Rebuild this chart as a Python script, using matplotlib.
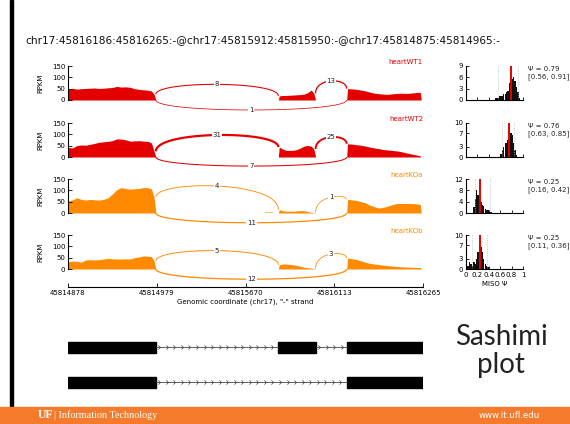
import numpy as np
import matplotlib
matplotlib.use("Agg")
import matplotlib.pyplot as plt
from matplotlib.patches import Rectangle
from matplotlib.path import Path

# ---- data -------------------------------------------------------------
title = "chr17:45816186:45816265:-@chr17:45815912:45815950:-@chr17:45814875:45814965:-"
samples = ["heartWT1", "heartWT2", "heartKOa", "heartKOb"]
tick_labels = ["45814878", "45814979", "45815670", "45816113", "45816265"]

# exon boundaries in the (intron-scaled) plot coordinate
exons = [(0.0, 0.99), (2.37, 2.79), (3.14, 4.0)]

exon1_x = [0, 0.05, 0.1, 0.15, 0.2, 0.25, 0.3, 0.35, 0.4, 0.45, 0.5, 0.55,
           0.6, 0.65, 0.7, 0.75, 0.8, 0.85, 0.9, 0.94, 0.97, 0.99]
exon2_x = [2.37, 2.38, 2.42, 2.46, 2.5, 2.54, 2.58, 2.62, 2.66, 2.7, 2.74, 2.77, 2.79]
exon3_x = [3.14, 3.15, 3.2, 3.25, 3.3, 3.35, 3.4, 3.45, 3.5, 3.55, 3.6, 3.65,
           3.7, 3.75, 3.8, 3.85, 3.9, 3.95, 3.97, 3.98]

cov_exon1 = {
    "heartWT1": [45, 52, 48, 50, 51, 52, 53, 51, 52, 54, 55, 60, 57, 58, 56, 50, 47, 45, 43, 40, 25, 0],
    "heartWT2": [42, 40, 50, 53, 52, 56, 60, 65, 67, 69, 72, 80, 79, 76, 70, 71, 72, 70, 69, 62, 25, 0],
    "heartKOa": [52, 58, 67, 60, 57, 60, 58, 57, 60, 67, 84, 103, 112, 108, 105, 107, 108, 112, 112, 106, 70, 0],
    "heartKOb": [32, 35, 34, 30, 40, 41, 40, 41, 44, 47, 45, 44, 44, 45, 44, 50, 53, 58, 56, 55, 35, 0],
}
cov_exon2 = {
    "heartWT1": [0, 18, 20, 20, 21, 22, 23, 24, 26, 32, 44, 30, 0],
    "heartWT2": [0, 44, 35, 29, 29, 30, 33, 40, 48, 51, 48, 35, 0],
    "heartKOa": [0, 15, 10, 8, 8, 8, 9, 11, 10, 6, 3, 2, 0],
    "heartKOb": [0, 18, 22, 22, 20, 18, 15, 12, 8, 6, 4, 2, 0],
}
cov_exon3 = {
    "heartWT1": [0, 50, 49, 47, 44, 40, 35, 30, 28, 26, 25, 27, 29, 30, 29, 30, 32, 34, 33, 0],
    "heartWT2": [0, 58, 57, 54, 52, 48, 44, 40, 37, 33, 31, 29, 27, 24, 19, 15, 11, 7, 4, 0],
    "heartKOa": [0, 60, 58, 55, 50, 45, 35, 28, 22, 25, 30, 36, 42, 42, 42, 42, 41, 39, 37, 0],
    "heartKOb": [0, 49, 45, 42, 36, 30, 25, 22, 20, 17, 15, 13, 11, 10, 9, 8, 7, 7, 7, 0],
}
# low intronic coverage pieces (start, end, RPKM)
intron_cov = {
    "heartWT1": [(1.0, 1.12, 2), (1.23, 1.34, 2), (1.52, 1.79, 2), (2.2, 2.31, 2)],
    "heartWT2": [(1.69, 1.79, 2), (2.87, 2.99, 2)],
    "heartKOa": [(2.22, 2.31, 4)],
    "heartKOb": [],
}

# junction read counts: exon1-exon2, exon2-exon3, exon1-exon3
junc_left = [8, 31, 4, 5]
junc_right = [13, 25, 1, 3]
junc_skip = [1, 7, 11, 12]

# MISO posterior
psi = [0.79, 0.76, 0.25, 0.25]
ci_lo = [0.56, 0.63, 0.16, 0.11]
ci_hi = [0.91, 0.85, 0.42, 0.36]
hist_ymax = [9, 10, 12, 10]
hist_yticks = [[0, 3, 6, 9], [0, 3, 7, 10], [0, 4, 8, 12], [0, 3, 7, 10]]
bin_centers = np.arange(0.0125, 1.0, 0.025)
hist_counts = {
    "heartWT1": {0.5125: 0.5, 0.5375: 0.5, 0.5625: 0.5, 0.5875: 1, 0.6125: 1, 0.6375: 1,
                 0.6625: 1.5, 0.6875: 1.5, 0.7125: 2, 0.7375: 2.5, 0.7625: 4.5, 0.7875: 5,
                 0.8125: 5.5, 0.8375: 6, 0.8625: 5, 0.8875: 3.5, 0.9125: 2, 0.9375: 0.5},
    "heartWT2": {0.6125: 1, 0.6375: 2, 0.6625: 3, 0.6875: 4, 0.7125: 4, 0.7375: 5,
                 0.7625: 5, 0.7875: 7, 0.8125: 6.5, 0.8375: 4, 0.8625: 2, 0.8875: 0.5},
    "heartKOa": {0.1375: 2, 0.1625: 5, 0.1875: 8, 0.2125: 6.5, 0.2375: 5, 0.2625: 4,
                 0.2875: 3, 0.3125: 2.5, 0.3375: 1.5, 0.3625: 1, 0.3875: 1, 0.4125: 0.5,
                 0.4375: 0.5},
    "heartKOb": {0.0375: 1, 0.0625: 2, 0.0875: 1.5, 0.1125: 1, 0.1375: 2, 0.1625: 1.5,
                 0.1875: 3, 0.2125: 5, 0.2375: 7, 0.2625: 6.5, 0.2875: 5, 0.3125: 3,
                 0.3375: 1.5, 0.3625: 1, 0.3875: 0.5},
}

# ---- layout / style ---------------------------------------------------
colors = ["#e50000", "#e50000", "#ff8a00", "#ff8a00"]
zero_px = [100, 157, 213, 269]       # pixel row of RPKM 0 in each track
arc_top_left = [69, 97, 119, 81]
arc_top_right = [84, 88, 70, 66]
arc_bottom = [-44, -40, -43, -45]

W, H = 570, 424
S = 34 / 150.0  # pixels per RPKM
FS = 5

fig = plt.figure(figsize=(W / 100, H / 100), dpi=100)


def px_axes(x0, y0, x1, y1):
    return fig.add_axes([x0 / W, 1 - y1 / H, (x1 - x0) / W, (y1 - y0) / H])


def bezier(x1, y1, x2, y2, peak, n=80):
    h = (peak - 0.125 * (y1 + y2)) / 0.75
    t = np.linspace(0, 1, n)
    xs = (1 - t) ** 3 * x1 + 3 * (1 - t) ** 2 * t * x1 + 3 * (1 - t) * t ** 2 * x2 + t ** 3 * x2
    ys = (1 - t) ** 3 * y1 + 3 * (1 - t) ** 2 * t * h + 3 * (1 - t) * t ** 2 * h + t ** 3 * y2
    return xs, ys


# slide decorations
fig.patches.append(Rectangle((10 / W, 0), 3 / W, 1, transform=fig.transFigure,
                             color="black", zorder=0))
fig.patches.append(Rectangle((0, 0), 1, 17 / H, transform=fig.transFigure,
                             color="#f37b2b", zorder=0))
fig.text(25 / W, 1 - 40 / H, title, fontsize=7.6, va="center", ha="left", color="#111")

for i, s in enumerate(samples):
    c = colors[i]
    z = zero_px[i]
    ylo = -60 if i < 3 else -(287 - z) / S
    yhi = 165
    ax = px_axes(68, z - yhi * S, 423, z - ylo * S)
    ax.set_xlim(0, 4)
    ax.set_ylim(ylo, yhi)
    ax.patch.set_alpha(0)

    for xs, cov in [(exon1_x, cov_exon1), (exon2_x, cov_exon2), (exon3_x, cov_exon3)]:
        ax.fill_between(xs, 0, cov[s], color=c, lw=0)
    for a, b, v in intron_cov[s]:
        ax.fill_between([a, b], 0, [v, v], color=c, lw=0, alpha=0.6)

    yl = np.interp(exons[0][1] - 0.02, exon1_x, cov_exon1[s])
    ym1 = np.interp(exons[1][0] + 0.01, exon2_x, cov_exon2[s])
    ym2 = np.interp(exons[1][1] - 0.02, exon2_x, cov_exon2[s])
    yr = np.interp(exons[2][0] + 0.01, exon3_x, cov_exon3[s])

    arcs = [
        (exons[0][1], yl, exons[1][0], ym1, arc_top_left[i], junc_left[i]),
        (exons[1][1], ym2, exons[2][0], yr, arc_top_right[i], junc_right[i]),
        (exons[0][1], 0, exons[2][0], 0, arc_bottom[i], junc_skip[i]),
    ]
    for x1, y1, x2, y2, pk, n in arcs:
        xs, ys = bezier(x1, y1, x2, y2, pk)
        ax.plot(xs, ys, color=c, lw=0.5 + 0.035 * n, solid_capstyle="butt")
        ax.text((x1 + x2) / 2, pk, str(n), fontsize=FS, ha="center", va="center",
                color="#222", bbox=dict(facecolor="white", edgecolor="none", pad=0.6))

    for sp in ["top", "right"]:
        ax.spines[sp].set_visible(False)
    ax.spines["left"].set_bounds(0, 150)
    ax.spines["left"].set_linewidth(0.8)
    ax.set_yticks([0, 50, 100, 150])
    ax.tick_params(axis="y", direction="in", length=3, width=0.6, labelsize=FS, pad=2)
    ax.set_ylabel("RPKM", fontsize=FS, labelpad=2)
    ax.yaxis.set_label_coords(-0.068, (0 + 75 - ylo) / (yhi - ylo))
    if i < 3:
        ax.spines["bottom"].set_visible(False)
        ax.set_xticks([])
    else:
        ax.spines["bottom"].set_linewidth(0.8)
        ax.set_xticks(range(5))
        ax.set_xticklabels(tick_labels)
        ax.tick_params(axis="x", direction="in", length=3, width=0.6, labelsize=FS, pad=2)
        ax.set_xlabel('Genomic coordinate (chr17), "-" strand', fontsize=FS, labelpad=2)
    fig.text(423 / W, 1 - (z - 150 * S - 4) / H, s, fontsize=FS, color=c,
             ha="right", va="center")

    # MISO posterior histogram
    hx = px_axes(466, z - 34, 523, z)
    counts = [hist_counts[s].get(round(b, 4), 0) for b in bin_centers]
    hx.bar(bin_centers, counts, width=0.024, color="#111", lw=0)
    hx.axvline(ci_lo[i], color="#bbbbbb", lw=0.6, ls=":")
    hx.axvline(ci_hi[i], color="#bbbbbb", lw=0.6, ls=":")
    hx.axvline(psi[i], color="#e50000", lw=1.4)
    hx.set_xlim(0, 1)
    hx.set_ylim(0, hist_ymax[i])
    hx.set_yticks(hist_yticks[i])
    hx.set_xticks(np.arange(0, 1.01, 0.2))
    for sp in ["top", "right"]:
        hx.spines[sp].set_visible(False)
    for sp in ["left", "bottom"]:
        hx.spines[sp].set_linewidth(0.8)
    hx.tick_params(direction="in", length=2.5, width=0.6, labelsize=FS, pad=2)
    if i < 3:
        hx.set_xticklabels([])
    else:
        hx.set_xticklabels(["0", "0.2", "0.4", "0.6", "0.8", "1"])
        hx.set_xlabel("MISO \u03a8", fontsize=FS, labelpad=2)
    fig.text(528 / W, 1 - (z - 34) / H,
             "\u03a8 = %.2f\n[%.2f, %.2f]" % (psi[i], ci_lo[i], ci_hi[i]),
             fontsize=FS, va="top", ha="left", color="#222", linespacing=1.2)

# gene models
gx = px_axes(68, 330, 423, 400)
gx.set_xlim(0, 4)
gx.set_ylim(400, 330)
gx.axis("off")
chevron = Path([(-1, 1), (0, 0), (-1, -1)], [Path.MOVETO, Path.LINETO, Path.LINETO])
models = [(347, [exons[0], exons[1], exons[2]]), (382, [exons[0], exons[2]])]
for yc, exs in models:
    for (a, b), (c2, d) in zip(exs[:-1], exs[1:]):
        gx.plot([b, c2], [yc, yc], color="#444", lw=0.6)
        cx = np.arange(b + 0.05, c2 - 0.02, 0.085)
        gx.plot(cx, np.full(len(cx), yc), ls="none", marker=chevron, ms=3,
                mfc="none", mec="#444", mew=0.5)
    for a, b in exs:
        gx.add_patch(Rectangle((a, yc - 5.5), b - a, 11, color="black"))

fig.text(501 / W, 1 - 337 / H, "Sashimi", fontsize=20, ha="center", va="center",
         color="#222", family="Lato")
fig.text(501 / W, 1 - 365 / H, "plot", fontsize=20, ha="center", va="center",
         color="#222", family="Lato")

fig.text(38 / W, 1 - 415.5 / H, "UF", fontsize=8.5, weight="bold", family="Liberation Serif",
         color="white", va="center", ha="left")
fig.text(54 / W, 1 - 415.5 / H, "| Information Technology", fontsize=7.3,
         family="Liberation Serif", color="white", va="center", ha="left")
fig.text(540 / W, 1 - 415.5 / H, "www.it.ufl.edu", fontsize=6.2, color="white",
         va="center", ha="right")

fig.savefig("out.png", dpi=100)
